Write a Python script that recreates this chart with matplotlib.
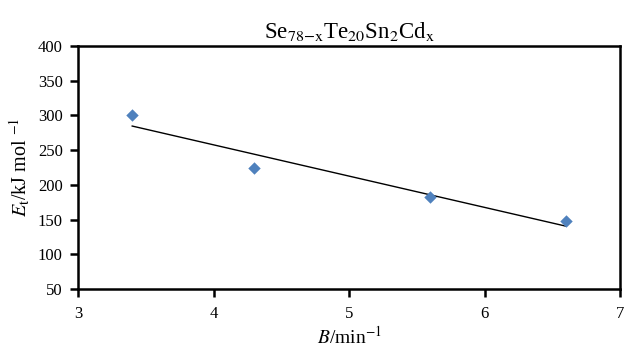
import matplotlib
matplotlib.use("Agg")
import matplotlib.pyplot as plt
import numpy as np

B = [3.4, 4.3, 5.6, 6.6]
Et = [300, 224, 183, 148]
xticks = [3, 4, 5, 6, 7]
yticks = [50, 100, 150, 200, 250, 300, 350, 400]

plt.rcParams['font.family'] = ['Liberation Serif', 'DejaVu Serif']
plt.rcParams['mathtext.fontset'] = 'stix'

fig = plt.figure(figsize=(6.26, 3.49), dpi=100)
ax = fig.add_axes([78/626, 1-289/349, (620-78)/626, (289-46)/349])

ax.scatter(B, Et, marker='D', s=40, color='#4F81BD', zorder=3, linewidths=0)
coef = np.polyfit(B, Et, 1)
xs = np.array([min(B), max(B)])
ax.plot(xs, np.polyval(coef, xs), color='black', lw=1.0, zorder=2)

ax.set_xlim(3, 7)
ax.set_ylim(50, 400)
ax.set_xticks(xticks)
ax.set_yticks(yticks)
ax.tick_params(direction='out', length=6, width=1.8, labelsize=12)
ax.tick_params(axis='y', pad=5)
ax.tick_params(axis='x', pad=6)
for s in ax.spines.values():
    s.set_linewidth(1.8)

ax.set_xlabel(r'$B$/min$^{-1}$', fontsize=14, labelpad=3)
ax.set_ylabel(r'$E_\mathrm{t}$/kJ mol $^{-1}$', fontsize=14.5, labelpad=4)
ax.set_title(r'Se$_{\mathrm{78{-}x}}$Te$_{\mathrm{20}}$Sn$_{\mathrm{2}}$Cd$_{\mathrm{x}}$', fontsize=16.5, pad=6)

fig.savefig('out.png', dpi=100)
